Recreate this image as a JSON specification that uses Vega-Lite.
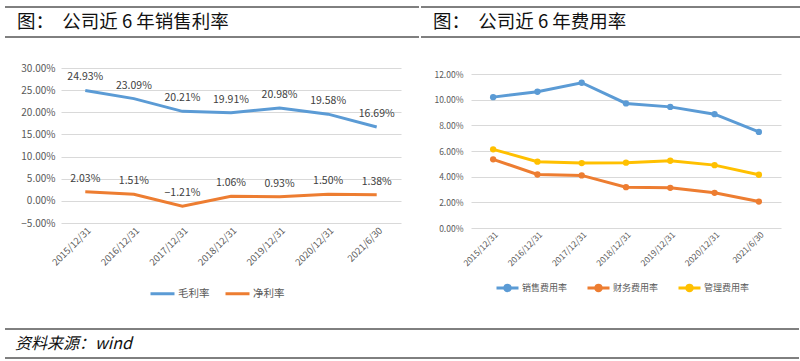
{
  "$schema": "https://vega.github.io/schema/vega-lite/v6.json",
  "padding": {"left": 4, "top": 6, "right": 0, "bottom": 0},
  "background": "white",
  "config": {
    "view": {"stroke": null},
    "font": "Noto Sans CJK SC",
    "axis": {"labelColor": "#595959", "domain": false, "ticks": false, "title": null, "gridColor": "#D9D9D9", "gridWidth": 1},
    "legend": {"labelColor": "#595959", "title": null}
  },
  "datasets": {
    "profit": [
      {"date": "2015/12/31", "series": "毛利率", "value": 0.2493},
      {"date": "2016/12/31", "series": "毛利率", "value": 0.2309},
      {"date": "2017/12/31", "series": "毛利率", "value": 0.2021},
      {"date": "2018/12/31", "series": "毛利率", "value": 0.1991},
      {"date": "2019/12/31", "series": "毛利率", "value": 0.2098},
      {"date": "2020/12/31", "series": "毛利率", "value": 0.1958},
      {"date": "2021/6/30", "series": "毛利率", "value": 0.1669},
      {"date": "2015/12/31", "series": "净利率", "value": 0.0203},
      {"date": "2016/12/31", "series": "净利率", "value": 0.0151},
      {"date": "2017/12/31", "series": "净利率", "value": -0.0121},
      {"date": "2018/12/31", "series": "净利率", "value": 0.0106},
      {"date": "2019/12/31", "series": "净利率", "value": 0.0093},
      {"date": "2020/12/31", "series": "净利率", "value": 0.0150},
      {"date": "2021/6/30", "series": "净利率", "value": 0.0138}
    ],
    "expense": [
      {"date": "2015/12/31", "series": "销售费用率", "value": 0.1020},
      {"date": "2016/12/31", "series": "销售费用率", "value": 0.1062},
      {"date": "2017/12/31", "series": "销售费用率", "value": 0.1132},
      {"date": "2018/12/31", "series": "销售费用率", "value": 0.0971},
      {"date": "2019/12/31", "series": "销售费用率", "value": 0.0944},
      {"date": "2020/12/31", "series": "销售费用率", "value": 0.0887},
      {"date": "2021/6/30", "series": "销售费用率", "value": 0.0749},
      {"date": "2015/12/31", "series": "财务费用率", "value": 0.0535},
      {"date": "2016/12/31", "series": "财务费用率", "value": 0.0417},
      {"date": "2017/12/31", "series": "财务费用率", "value": 0.0410},
      {"date": "2018/12/31", "series": "财务费用率", "value": 0.0318},
      {"date": "2019/12/31", "series": "财务费用率", "value": 0.0313},
      {"date": "2020/12/31", "series": "财务费用率", "value": 0.0274},
      {"date": "2021/6/30", "series": "财务费用率", "value": 0.0206},
      {"date": "2015/12/31", "series": "管理费用率", "value": 0.0613},
      {"date": "2016/12/31", "series": "管理费用率", "value": 0.0517},
      {"date": "2017/12/31", "series": "管理费用率", "value": 0.0506},
      {"date": "2018/12/31", "series": "管理费用率", "value": 0.0509},
      {"date": "2019/12/31", "series": "管理费用率", "value": 0.0524},
      {"date": "2020/12/31", "series": "管理费用率", "value": 0.0490},
      {"date": "2021/6/30", "series": "管理费用率", "value": 0.0415}
    ]
  },
  "spacing": 25,
  "resolve": {"scale": {"color": "independent"}, "legend": {"color": "independent"}},
  "vconcat": [
    {
      "spacing": 0,
      "hconcat": [
        {
          "width": 358, "height": 30,
          "data": {"values": [{"t": "图：\u00a0\u00a0公司近 6 年销售利率"}]},
          "layer": [
            {"mark": {"type": "rule", "color": "#000", "strokeWidth": 1, "xOffset": -56},
             "encoding": {"x": {"datum": 0, "type": "quantitative", "scale": {"domain": [0, 1]}, "axis": null}, "x2": {"datum": 1},
                          "y": {"datum": 0, "type": "quantitative", "scale": {"domain": [0, 1]}, "axis": null}}},
            {"mark": {"type": "rule", "color": "#000", "strokeWidth": 1, "xOffset": -56},
             "encoding": {"x": {"datum": 0, "type": "quantitative", "scale": {"domain": [0, 1]}, "axis": null}, "x2": {"datum": 1},
                          "y": {"datum": 1, "type": "quantitative", "scale": {"domain": [0, 1]}, "axis": null}}},
            {"mark": {"type": "text", "align": "left", "baseline": "middle", "dx": -44, "fontSize": 18.5, "color": "#111"},
             "encoding": {"x": {"datum": 0, "type": "quantitative", "scale": {"domain": [0, 1]}, "axis": null},
                          "y": {"datum": 0.5, "type": "quantitative", "scale": {"domain": [0, 1]}, "axis": null},
                          "text": {"field": "t"}}}
          ]
        },
        {
          "width": 380, "height": 30,
          "data": {"values": [{"t": "图：\u00a0\u00a0公司近 6 年费用率"}]},
          "layer": [
            {"mark": {"type": "rule", "color": "#000", "strokeWidth": 1}, "encoding": {"y": {"datum": 0, "type": "quantitative", "scale": {"domain": [0, 1]}, "axis": null}}},
            {"mark": {"type": "rule", "color": "#000", "strokeWidth": 1}, "encoding": {"y": {"datum": 1, "type": "quantitative", "scale": {"domain": [0, 1]}, "axis": null}}},
            {"mark": {"type": "text", "align": "left", "baseline": "middle", "dx": 12, "fontSize": 18.5, "color": "#111"},
             "encoding": {"x": {"datum": 0, "type": "quantitative", "scale": {"domain": [0, 1]}, "axis": null},
                          "y": {"datum": 0.5, "type": "quantitative", "scale": {"domain": [0, 1]}, "axis": null},
                          "text": {"field": "t"}}}
          ]
        }
      ]
    },
    {
      "spacing": 30,
      "resolve": {"scale": {"color": "independent"}, "legend": {"color": "independent"}},
      "hconcat": [
        {
          "width": 340, "height": 155,
          "data": {"name": "profit"},
          "encoding": {
            "x": {"field": "date", "type": "ordinal",
                  "sort": ["2015/12/31", "2016/12/31", "2017/12/31", "2018/12/31", "2019/12/31", "2020/12/31", "2021/6/30"],
                  "scale": {"type": "point", "padding": 0.5},
                  "axis": {"labelAngle": -45, "labelFontSize": 9.5, "grid": false}},
            "y": {"field": "value", "type": "quantitative",
                  "scale": {"domain": [-0.05, 0.30], "nice": false, "zero": false},
                  "axis": {"format": ".2%", "values": [-0.05, 0, 0.05, 0.1, 0.15, 0.2, 0.25, 0.3], "labelFontSize": 10, "minExtent": 56, "labelPadding": 6}},
            "color": {"field": "series", "type": "nominal",
                      "scale": {"domain": ["毛利率", "净利率"], "range": ["#5B9BD5", "#ED7D31"]},
                      "legend": {"orient": "none", "legendX": 85, "legendY": 209, "padding": 3, "direction": "horizontal", "symbolType": "stroke", "symbolSize": 576, "symbolStrokeWidth": 3, "labelFontSize": 10.5, "labelOffset": 2, "columnPadding": 9}}
          },
          "layer": [
            {"mark": {"type": "line", "strokeWidth": 3}},
            {"mark": {"type": "text", "dy": -13, "fontSize": 10.5},
             "encoding": {"text": {"field": "value", "type": "quantitative", "format": ".2%"}, "color": {"value": "#404040"}}}
          ]
        },
        {
          "width": 310, "height": 160,
          "data": {"name": "expense"},
          "encoding": {
            "x": {"field": "date", "type": "ordinal",
                  "sort": ["2015/12/31", "2016/12/31", "2017/12/31", "2018/12/31", "2019/12/31", "2020/12/31", "2021/6/30"],
                  "scale": {"type": "point", "padding": 0.5},
                  "axis": {"labelAngle": -45, "labelFontSize": 8.5, "grid": false}},
            "y": {"field": "value", "type": "quantitative",
                  "scale": {"domain": [0, 0.1247], "nice": false},
                  "axis": {"format": ".2%", "values": [0, 0.02, 0.04, 0.06, 0.08, 0.1, 0.12], "labelFontSize": 8.5, "minExtent": 40, "labelPadding": 8}},
            "color": {"field": "series", "type": "nominal",
                      "scale": {"domain": ["销售费用率", "财务费用率", "管理费用率"], "range": ["#5B9BD5", "#ED7D31", "#FFC000"]},
                      "legend": {"orient": "none", "legendX": 24, "legendY": 207, "direction": "horizontal", "symbolType": "M-1,0L1,0M-0.25,0a0.25,0.25 0 1,0 0.5,0a0.25,0.25 0 1,0 -0.5,0", "symbolSize": 484, "symbolStrokeWidth": 3, "labelFontSize": 9, "labelOffset": 2, "columnPadding": 13}}
          },
          "layer": [
            {"mark": {"type": "line", "strokeWidth": 3, "point": {"size": 40, "filled": true}}}
          ]
        }
      ]
    },
    {
      "width": 738, "height": 29,
      "data": {"values": [{"t": "资料来源：wind"}]},
      "layer": [
        {"mark": {"type": "rule", "color": "#000", "strokeWidth": 1, "xOffset": -56},
         "encoding": {"x": {"datum": 0, "type": "quantitative", "scale": {"domain": [0, 1]}, "axis": null}, "x2": {"datum": 1},
                      "y": {"datum": 0, "type": "quantitative", "scale": {"domain": [0, 1]}, "axis": null}}},
        {"mark": {"type": "rule", "color": "#000", "strokeWidth": 1, "xOffset": -56},
         "encoding": {"x": {"datum": 0, "type": "quantitative", "scale": {"domain": [0, 1]}, "axis": null}, "x2": {"datum": 1},
                      "y": {"datum": 1, "type": "quantitative", "scale": {"domain": [0, 1]}, "axis": null}}},
        {"mark": {"type": "text", "align": "left", "baseline": "middle", "dx": -46, "fontSize": 16, "fontStyle": "italic", "color": "#111"},
         "encoding": {"x": {"datum": 0, "type": "quantitative", "scale": {"domain": [0, 1]}, "axis": null},
                      "y": {"datum": 0.5, "type": "quantitative", "scale": {"domain": [0, 1]}, "axis": null},
                      "text": {"field": "t"}}}
      ]
    }
  ]
}
